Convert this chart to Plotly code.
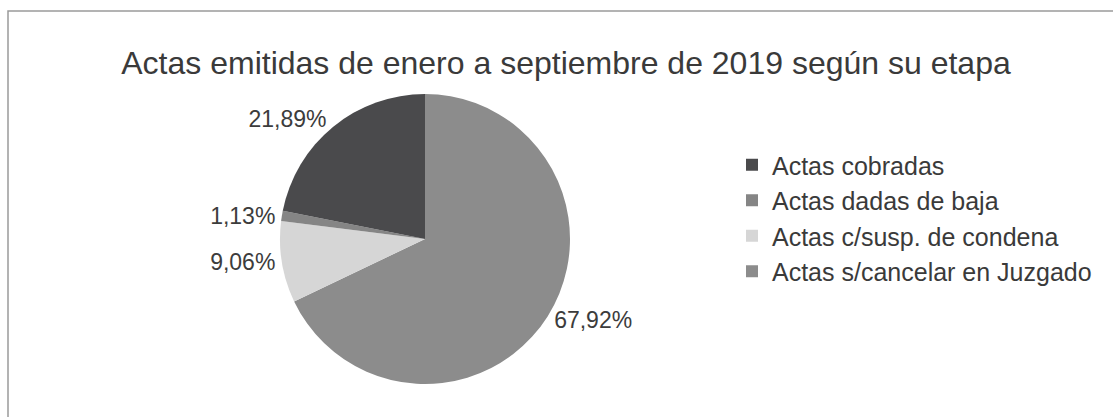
import plotly.graph_objects as go

categories = ["Actas cobradas", "Actas dadas de baja", "Actas c/susp. de condena", "Actas s/cancelar en Juzgado"]
percentages = [21.89, 1.13, 9.06, 67.92]
colors = ["#4a4a4c", "#858585", "#d6d6d6", "#8c8c8c"]
title_text = "Actas emitidas de enero a septiembre de 2019 según su etapa"

W, H = 1113, 417
FONT = "Liberation Sans, Arial, sans-serif"

# The reference draws the slices counter-clockwise from 12 o'clock in legend order;
# feed them reversed and go clockwise, then reverse the legend back.
fig = go.Figure(
    go.Pie(
        labels=categories[::-1],
        values=percentages[::-1],
        marker=dict(colors=colors[::-1], line=dict(width=0)),
        sort=False,
        direction="clockwise",
        rotation=0,
        textposition="outside",
        texttemplate="%{value:.2f}%",
        textfont=dict(family=FONT, size=23, color="#3c3c3c"),
        domain=dict(x=[280 / W, 570 / W], y=[1 - 384 / H, 1 - 94 / H]),
        hoverinfo="label+value",
    )
)

fig.update_layout(
    width=W,
    height=H,
    margin=dict(l=0, r=0, t=0, b=0),
    paper_bgcolor="#ffffff",
    plot_bgcolor="#ffffff",
    separators=",.",
    title=dict(
        text=title_text,
        x=566 / W,
        xanchor="center",
        y=1 - 63 / H,
        yanchor="middle",
        font=dict(family=FONT, size=32, color="#3a3a3a"),
    ),
    legend=dict(
        x=732 / W,
        xanchor="left",
        y=1 - 142 / H,
        yanchor="top",
        traceorder="reversed",
        font=dict(family=FONT, size=25, color="#3a3a3a"),
        bgcolor="rgba(0,0,0,0)",
    ),
    shapes=[
        dict(
            type="rect",
            xref="paper",
            yref="paper",
            x0=8 / W,
            x1=1.02,
            y0=-0.05,
            y1=1 - 11 / H,
            line=dict(color="#9a9a9a", width=1.5),
            fillcolor="rgba(0,0,0,0)",
            layer="below",
        )
    ],
)

fig.write_html(
    "out.html",
    config={"displayModeBar": False},
    post_script="document.body.style.margin='0';document.body.style.overflow='hidden';",
)
